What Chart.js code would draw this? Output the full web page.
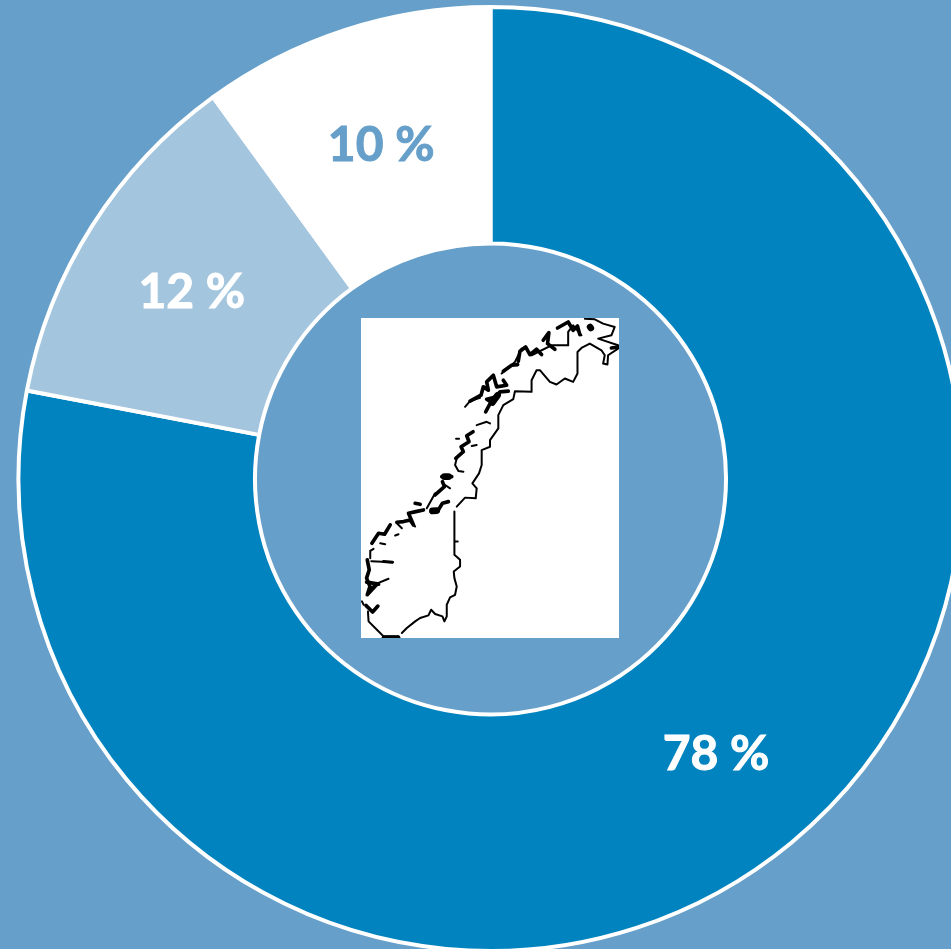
<!DOCTYPE html>
<html>
<head>
<meta charset="utf-8">
<title>Norway share</title>
<script src="https://cdn.jsdelivr.net/npm/chart.js@4"></script>
<style>
    html, body { margin: 0; padding: 0; width: 951px; height: 949px; overflow: hidden; background: #669fc9; }
    #wrap { position: relative; width: 951px; height: 949px; overflow: hidden; }
    canvas { position: absolute; left: 0; top: 0; }
    /* white map picture in the hole of the ring */
    #map { position: absolute; left: 361px; top: 318px; width: 258px; height: 320px; background: #fff; }
</style>
</head>
<body>
<div id="wrap">
    <canvas id="ring" width="981" height="958"></canvas>
    <svg id="map" viewBox="18 18 774 962">
        <g fill="none" stroke="#000" stroke-linejoin="round" stroke-linecap="round" style="filter: blur(1px)">
            <!-- border and south coast -->
            <g stroke-width="6">
                <polyline points="85,975 130,975"/>
                <polyline points="140,965 155,950 180,930 195,920 220,912 228,895 240,908 262,915 268,930 275,915 275,880 285,858 300,850 305,825 298,800 296,780 315,765 315,745 298,730 298,600"/>
                <polyline points="305,585 330,558 362,560 365,530 352,515 372,485 380,460 380,415 405,405 405,385 430,350 430,310 445,280 475,262 480,238 530,240 530,205 545,175 555,175 585,210 605,218 630,200 655,210 668,185 668,120 680,108 705,95 740,115 750,130 745,155 758,158 760,130 790,110"/>
                <polyline points="85,975 65,955 40,930 38,900"/>
                <polyline points="25,880 20,870"/>
                <polyline points="45,740 45,718 55,712"/>
                <polyline points="215,590 240,545"/>
                <polyline points="305,440 300,460 310,478 325,480"/>
                <polyline points="365,340 395,330 405,335"/>
                <polyline points="440,185 480,150 500,110"/>
                <polyline points="640,100 640,60 655,40 680,70"/>
                <polyline points="690,20 720,22 745,35 780,45 770,70 730,80 790,100"/>
                <polyline points="330,285 345,268 375,258"/>
                <polyline points="300,690 308,690"/>
                <polyline points="68,815 100,802"/>
                <polyline points="350,403 365,400"/>
                <polyline points="303,381 312,381"/>
                <polyline points="120,672 130,668"/>
                <polyline points="75,695 90,698"/>
                <polyline points="125,635 140,650"/>
                <polyline points="170,635 180,645"/>
                <polyline points="270,520 285,530"/>
                <polyline points="48,749 112,752"/>
                <polyline points="530,130 590,100 640,100"/>
            </g>
            <!-- dense islands and fjords, zigzag so they look clustered -->
            <g stroke-width="11">
                <polyline points="85,978 130,978"/>
                <polyline points="36,745 42,775 34,800 44,825 36,850 66,818 44,835"/>
                <polyline points="34,812 70,818"/>
                <polyline points="32,882 52,902 68,884"/>
                <polyline points="50,695 70,665 88,668 105,640"/>
                <polyline points="125,632 145,630 165,625 175,640 160,605 182,600 205,595"/>
                <polyline points="180,575 195,578"/>
                <polyline points="228,600 250,595 262,575 280,570"/>
                <polyline points="260,495 290,495"/>
                <polyline points="240,550 268,525 262,510"/>
                <polyline points="302,440 325,420 318,405 342,390 335,372 354,360"/>
                <polyline points="392,300 408,270 395,262 425,255 435,240 460,238"/>
                <polyline points="345,268 378,250 385,225 400,235 395,210 415,190 425,225 455,220 445,205"/>
                <polyline points="445,178 470,160 488,158"/>
                <polyline points="490,148 495,118 512,105 525,128 545,112 560,128"/>
                <polyline points="565,85 582,62 578,95 600,112"/>
                <polyline points="608,48 640,30 655,55 668,42 675,68"/>
                <polyline points="770,108 790,105"/>
            </g>
            <g stroke-width="20">
                <polyline points="706,45 708,48"/>
                <polyline points="268,495 280,495"/>
                <polyline points="232,598 245,597"/>
                <polyline points="412,272 428,250"/>
            </g>
            <g stroke-width="9">
                <polyline points="85,750 112,752"/>
            </g>
        </g>
    </svg>
</div>
<script>
const share_labels = ["78 %", "12 %", "10 %"];
const share_values = [78, 12, 10];
const slice_colors = ["#0083be", "#a3c5de", "#ffffff"];
const text_colors = ["#ffffff", "#ffffff", "#669fc9"];

// percent labels sit in the middle of each slice
const slice_text = {
    id: "slice_text",
    afterDatasetsDraw(chart) {
        const ctx = chart.ctx;
        const arcs = chart.getDatasetMeta(0).data;
        ctx.save();
        ctx.font = "bold 48px Lato";
        ctx.textAlign = "center";
        ctx.textBaseline = "middle";
        ctx.lineWidth = 1;
        arcs.forEach((arc, i) => {
            const pos = arc.tooltipPosition();
            ctx.fillStyle = text_colors[i];
            ctx.strokeStyle = text_colors[i];
            ctx.fillText(share_labels[i], pos.x, pos.y + 3);
            ctx.strokeText(share_labels[i], pos.x, pos.y + 3);
        });
        ctx.restore();
    }
};

new Chart(document.getElementById("ring").getContext("2d"), {
    type: "doughnut",
    data: {
        labels: share_labels,
        datasets: [{
            data: share_values,
            backgroundColor: slice_colors,
            borderColor: "#ffffff",
            borderWidth: 4,
            radius: 472,
            cutout: 238
        }]
    },
    options: {
        responsive: false,
        animation: false,
        plugins: {
            legend: { display: false },
            tooltip: { enabled: false }
        }
    },
    plugins: [slice_text]
});
</script>
</body>
</html>
